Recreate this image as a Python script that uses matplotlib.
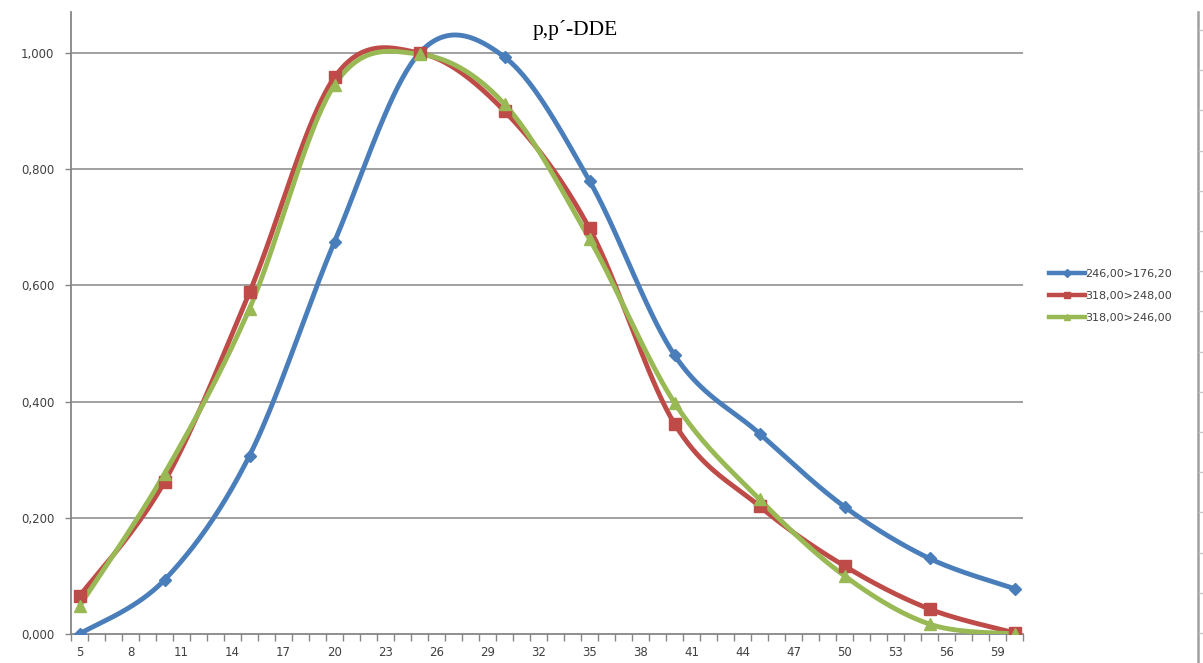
import numpy as np
import matplotlib
matplotlib.use("Agg")
import matplotlib.pyplot as plt
from matplotlib.lines import Line2D

# Retention-time categories (every integer shown on the category axis)
categories = list(range(5, 61))
x_points = [5, 10, 15, 20, 25, 30, 35, 40, 45, 50, 55, 60]
tick_labels = [str(v) for v in range(5, 60, 3)]

series_names = ["246,00>176,20", "318,00>248,00", "318,00>246,00"]
blue_vals = [0.000, 0.093, 0.307, 0.675, 1.000, 0.993, 0.780, 0.480, 0.345, 0.219, 0.130, 0.078]
red_vals = [0.065, 0.262, 0.588, 0.958, 1.000, 0.900, 0.698, 0.362, 0.220, 0.117, 0.043, 0.002]
green_vals = [0.048, 0.276, 0.560, 0.945, 0.998, 0.912, 0.680, 0.398, 0.232, 0.100, 0.017, 0.000]

colors = ["#4A7EBB", "#BE4B48", "#98B954"]
markers = ["D", "s", "^"]
msizes = [6, 8, 8]


def smooth(xs, ys, n=40):
    """Bezier smoothing through every point (Catmull-Rom style control points)."""
    xs = np.asarray(xs, float)
    ys = np.asarray(ys, float)
    px = np.concatenate([[xs[0]], xs, [xs[-1]]])
    py = np.concatenate([[ys[0]], ys, [ys[-1]]])
    out_x, out_y = [], []
    t = np.linspace(0, 1, n)
    for i in range(1, len(px) - 2):
        p0 = np.array([px[i - 1], py[i - 1]])
        p1 = np.array([px[i], py[i]])
        p2 = np.array([px[i + 1], py[i + 1]])
        p3 = np.array([px[i + 2], py[i + 2]])
        c1 = p1 + (p2 - p0) / 6.0
        c2 = p2 - (p3 - p1) / 6.0
        b = ((1 - t) ** 3)[:, None] * p1 + (3 * (1 - t) ** 2 * t)[:, None] * c1 \
            + (3 * (1 - t) * t ** 2)[:, None] * c2 + (t ** 3)[:, None] * p2
        out_x.extend(b[:, 0])
        out_y.extend(b[:, 1])
    return np.array(out_x), np.array(out_y)


W, H = 1203, 663
fig = plt.figure(figsize=(W / 100, H / 100), dpi=100)
fig.patch.set_facecolor("white")

ax_l, ax_r, ax_b, ax_t = 71, 1023, 634, 12
ax = fig.add_axes([ax_l / W, 1 - ax_b / H, (ax_r - ax_l) / W, (ax_b - ax_t) / H])

ymax = (ax_b - ax_t) / 581.0
ax.set_xlim(categories[0] - 0.5, categories[-1] + 0.5)
ax.set_ylim(0, ymax)

for vals, c, m, ms in zip([blue_vals, red_vals, green_vals], colors, markers, msizes):
    sx, sy = smooth(x_points, vals)
    ax.plot(sx, sy, color=c, lw=3.5, solid_capstyle="round", zorder=3)
    ax.plot(x_points, vals, linestyle="none", marker=m, ms=ms, color=c,
            markeredgecolor=c, zorder=4)

# gridlines
for gy in np.arange(0.2, 1.01, 0.2):
    ax.axhline(gy, color="#868686", lw=1.1, zorder=1)

yticks = np.arange(0, 1.01, 0.2)
ax.set_yticks(yticks)
ax.set_yticklabels([f"{v:.3f}".replace(".", ",") for v in yticks])
# tick marks sit between categories, labels under every third category
ax.set_xticks([c - 0.5 for c in categories] + [categories[-1] + 0.5])
ax.set_xticklabels([])
ax.set_xticks([int(t) for t in tick_labels], minor=True)
ax.set_xticklabels(tick_labels, minor=True)
ax.tick_params(axis="x", which="major", length=5, width=1, color="#868686", direction="out")
ax.tick_params(axis="x", which="minor", length=0, pad=9, labelsize=8.5, labelcolor="#404040")
ax.tick_params(axis="y", length=4, width=1, color="#868686", labelsize=8.5, labelcolor="#404040", pad=8)

for s in ["top", "right"]:
    ax.spines[s].set_visible(False)
for s in ["left", "bottom"]:
    ax.spines[s].set_color("#868686")
    ax.spines[s].set_linewidth(1.3)

fig.text(575 / W, 1 - 30 / H, "p,p\u00b4-DDE", family="Liberation Serif", fontsize=15.5,
         ha="center", va="center", color="black")

handles = [Line2D([0], [0], color=c, lw=3.2, marker=m, ms=4, markeredgecolor=c)
           for c, m in zip(colors, markers)]
fig.legend(handles, series_names, loc="center left",
           bbox_to_anchor=(1045 / W, 1 - 296 / H), frameon=False,
           fontsize=8, labelcolor="#404040", handlelength=3.2, handletextpad=0.0,
           labelspacing=1.05, borderaxespad=0)

# edge of the adjacent panel on the right
fig.add_artist(Line2D([1198 / W, 1198 / W], [0, 1 - 12 / H], color="#a0a0a0", lw=1.8,
                      transform=fig.transFigure))
for ty in np.arange(30, H, 40.2):
    fig.add_artist(Line2D([1199 / W, 1203 / W], [1 - ty / H, 1 - ty / H], color="#c8c8c8",
                          lw=1, transform=fig.transFigure))

fig.savefig("out.png", dpi=100, facecolor="white")
